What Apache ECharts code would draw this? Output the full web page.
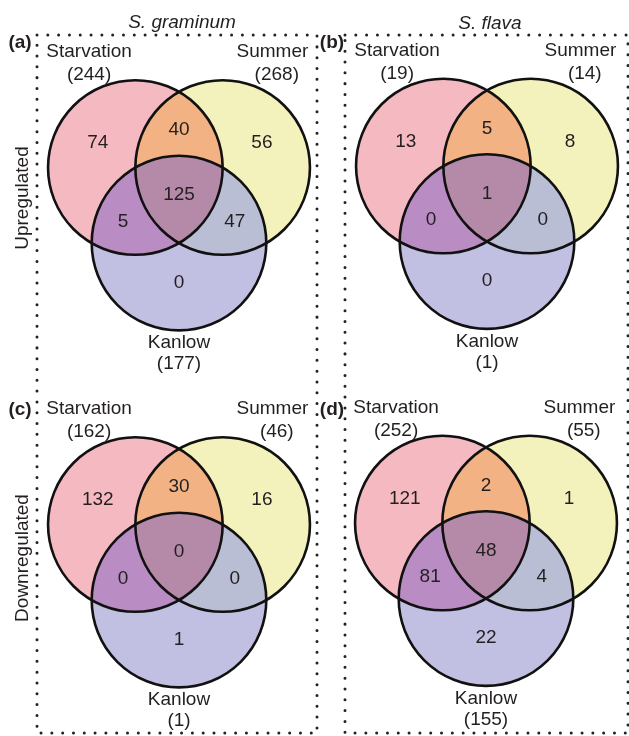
<!DOCTYPE html>
<html><head><meta charset="utf-8">
<script src="https://cdn.jsdelivr.net/npm/echarts@6/dist/echarts.min.js"></script>
<style>html,body{margin:0;padding:0;background:#fff}#c{width:629px;height:736px}</style>
</head><body><div id="c"></div>
<script>
// ---------- data ----------
const setNames = ['Starvation', 'Summer', 'Kanlow'];
const regionNames = ['Starvation only', 'Summer only', 'Kanlow only',
  'Starvation & Summer', 'Starvation & Kanlow', 'Summer & Kanlow', 'All three'];
const panelLetters = ['(a)', '(b)', '(c)', '(d)'];
const speciesTitles = ['S. graminum', 'S. flava'];
const rowTitles = ['Upregulated', 'Downregulated'];

const countsA = [74, 56, 0, 40, 5, 47, 125];
const countsB = [13, 8, 0, 5, 0, 0, 1];
const countsC = [132, 16, 1, 30, 0, 0, 0];
const countsD = [121, 1, 22, 2, 81, 4, 48];

const totalsA = [244, 268, 177];
const totalsB = [19, 14, 1];
const totalsC = [162, 46, 1];
const totalsD = [252, 55, 155];

// ---------- layout / style ----------
const counts = [countsA, countsB, countsC, countsD];
const totals = [totalsA, totalsB, totalsC, totalsD];
const R = 87.3;
const origins = [[179, 167.5], [487, 166], [179, 524.5], [486, 523]];
const XR = [-1.6, 1.6], YR = [-1.9, 2.4];
const FONT = '"Liberation Sans", Arial, sans-serif';
const TXT = '#231f20';
const setFill = ['#f5b9c1', '#f4f2bc', '#c2c0e2'];
const lensFill = ['#f2b283', '#ba8cc4', '#b9bed4', '#b58aa9'];
const S = Math.sqrt(3) / 2;
const setCenters = [[-0.5, 0], [0.5, 0], [0, S]];
// each lens region = list of arcs [circleIndex, startDeg, endDeg] (screen angles, y down)
const lensArcs = [
  [[0, -60, 60], [1, 120, 240]],
  [[0, 0, 120], [2, 180, 300]],
  [[1, 60, 180], [2, 240, 360]],
  [[2, 240, 300], [0, 0, 60], [1, 120, 180]]
];
const regionLabelPos = [[-0.93, -0.28], [0.95, -0.28], [0, 1.32], [0, -0.43], [-0.64, 0.62], [0.64, 0.62], [0, 0.315]];
const setNamePos = [[-1.03, -1.32], [1.07, -1.32], [0, 2.01]];
const setCountPos = [[-1.03, -1.06], [1.12, -1.06], [0, 2.25]];

function regionItem(params, api) {
  const idx = api.value(0);
  const cnt = api.value(1);
  const P = (x, y) => api.coord([x, y]);
  const o = P(0, 0);
  const r = P(1, 0)[0] - o[0];
  let shape;
  if (idx < 3) {
    const c = P(setCenters[idx][0], setCenters[idx][1]);
    shape = { type: 'circle', shape: { cx: c[0], cy: c[1], r: r }, style: { fill: setFill[idx] } };
  } else {
    const pts = [];
    lensArcs[idx - 3].forEach(([ci, a0, a1]) => {
      const n = 48;
      for (let k = 0; k <= n; k++) {
        const a = (a0 + (a1 - a0) * k / n) * Math.PI / 180;
        pts.push(P(setCenters[ci][0] + Math.cos(a), setCenters[ci][1] + Math.sin(a)));
      }
    });
    shape = { type: 'polygon', shape: { points: pts }, style: { fill: lensFill[idx - 3] } };
  }
  const lp = P(regionLabelPos[idx][0], regionLabelPos[idx][1]);
  return {
    type: 'group',
    children: [shape, {
      type: 'text', x: lp[0], y: lp[1], z2: 10,
      style: { text: String(cnt), fontSize: 19, fontFamily: FONT, fill: TXT, align: 'center', verticalAlign: 'middle' }
    }]
  };
}

function setItem(params, api) {
  const idx = api.value(0);
  const tot = api.value(1);
  const P = (x, y) => api.coord([x, y]);
  const o = P(0, 0);
  const r = P(1, 0)[0] - o[0];
  const c = P(setCenters[idx][0], setCenters[idx][1]);
  const np = P(setNamePos[idx][0], setNamePos[idx][1]);
  const cp = P(setCountPos[idx][0], setCountPos[idx][1]);
  const ts = (t) => ({ text: t, fontSize: 19, fontFamily: FONT, fill: TXT, align: 'center', verticalAlign: 'middle' });
  return {
    type: 'group',
    children: [
      { type: 'circle', shape: { cx: c[0], cy: c[1], r: r }, style: { fill: null, stroke: '#111', lineWidth: 2.6 } },
      { type: 'text', x: np[0], y: np[1], style: ts(setNames[idx]) },
      { type: 'text', x: cp[0], y: cp[1], style: ts('(' + tot + ')') }
    ]
  };
}

const grids = [], xAxes = [], yAxes = [], series = [];
origins.forEach((o, p) => {
  grids.push({ left: o[0] + XR[0] * R, top: o[1] + YR[0] * R, width: (XR[1] - XR[0]) * R, height: (YR[1] - YR[0]) * R, containLabel: false });
  xAxes.push({ type: 'value', gridIndex: p, min: XR[0], max: XR[1], show: false });
  yAxes.push({ type: 'value', gridIndex: p, min: YR[0], max: YR[1], inverse: true, show: false });
  series.push({
    type: 'custom', name: 'regions' + p, xAxisIndex: p, yAxisIndex: p, z: 2, silent: true,
    encode: { x: 0, y: 0 },
    data: counts[p].map((v, i) => [i, v, regionNames[i]]),
    renderItem: regionItem
  });
  series.push({
    type: 'custom', name: 'sets' + p, xAxisIndex: p, yAxisIndex: p, z: 3, silent: true,
    encode: { x: 0, y: 0 },
    data: totals[p].map((v, i) => [i, v]),
    renderItem: setItem
  });
});

const dotStyle = (sp) => ({ fill: null, stroke: '#222', lineWidth: 3, lineDash: [0.01, sp], lineCap: 'round' });
const graphic = [
  { type: 'rect', shape: { x: 37, y: 35, width: 280, height: 698 }, style: dotStyle(10.8), z: 1 },
  { type: 'rect', shape: { x: 345, y: 35, width: 283, height: 698 }, style: dotStyle(10.8), z: 1 },
  { type: 'text', x: 182, y: 23, style: { text: speciesTitles[0], fontSize: 19, fontStyle: 'italic', fontFamily: FONT, fill: TXT, align: 'center', verticalAlign: 'middle' } },
  { type: 'text', x: 490, y: 24, style: { text: speciesTitles[1], fontSize: 19, fontStyle: 'italic', fontFamily: FONT, fill: TXT, align: 'center', verticalAlign: 'middle' } },
  { type: 'text', x: 23, y: 198, rotation: Math.PI / 2, style: { text: rowTitles[0], fontSize: 19, fontFamily: FONT, fill: TXT, align: 'center', verticalAlign: 'middle' } },
  { type: 'text', x: 23, y: 558, rotation: Math.PI / 2, style: { text: rowTitles[1], fontSize: 19, fontFamily: FONT, fill: TXT, align: 'center', verticalAlign: 'middle' } }
];
const letterPos = [[20, 43], [332, 43], [20, 410], [332, 410]];
panelLetters.forEach((t, i) => {
  graphic.push({ type: 'text', x: letterPos[i][0], y: letterPos[i][1], z: 5,
    style: { text: t, fontSize: 19, fontWeight: 'bold', fontFamily: FONT, fill: TXT, align: 'center', verticalAlign: 'middle' } });
});

const chart = echarts.init(document.getElementById('c'), null, { renderer: 'canvas' });
chart.setOption({
  backgroundColor: '#ffffff',
  animation: false,
  grid: grids, xAxis: xAxes, yAxis: yAxes,
  series: series,
  graphic: graphic
});
</script></body></html>
